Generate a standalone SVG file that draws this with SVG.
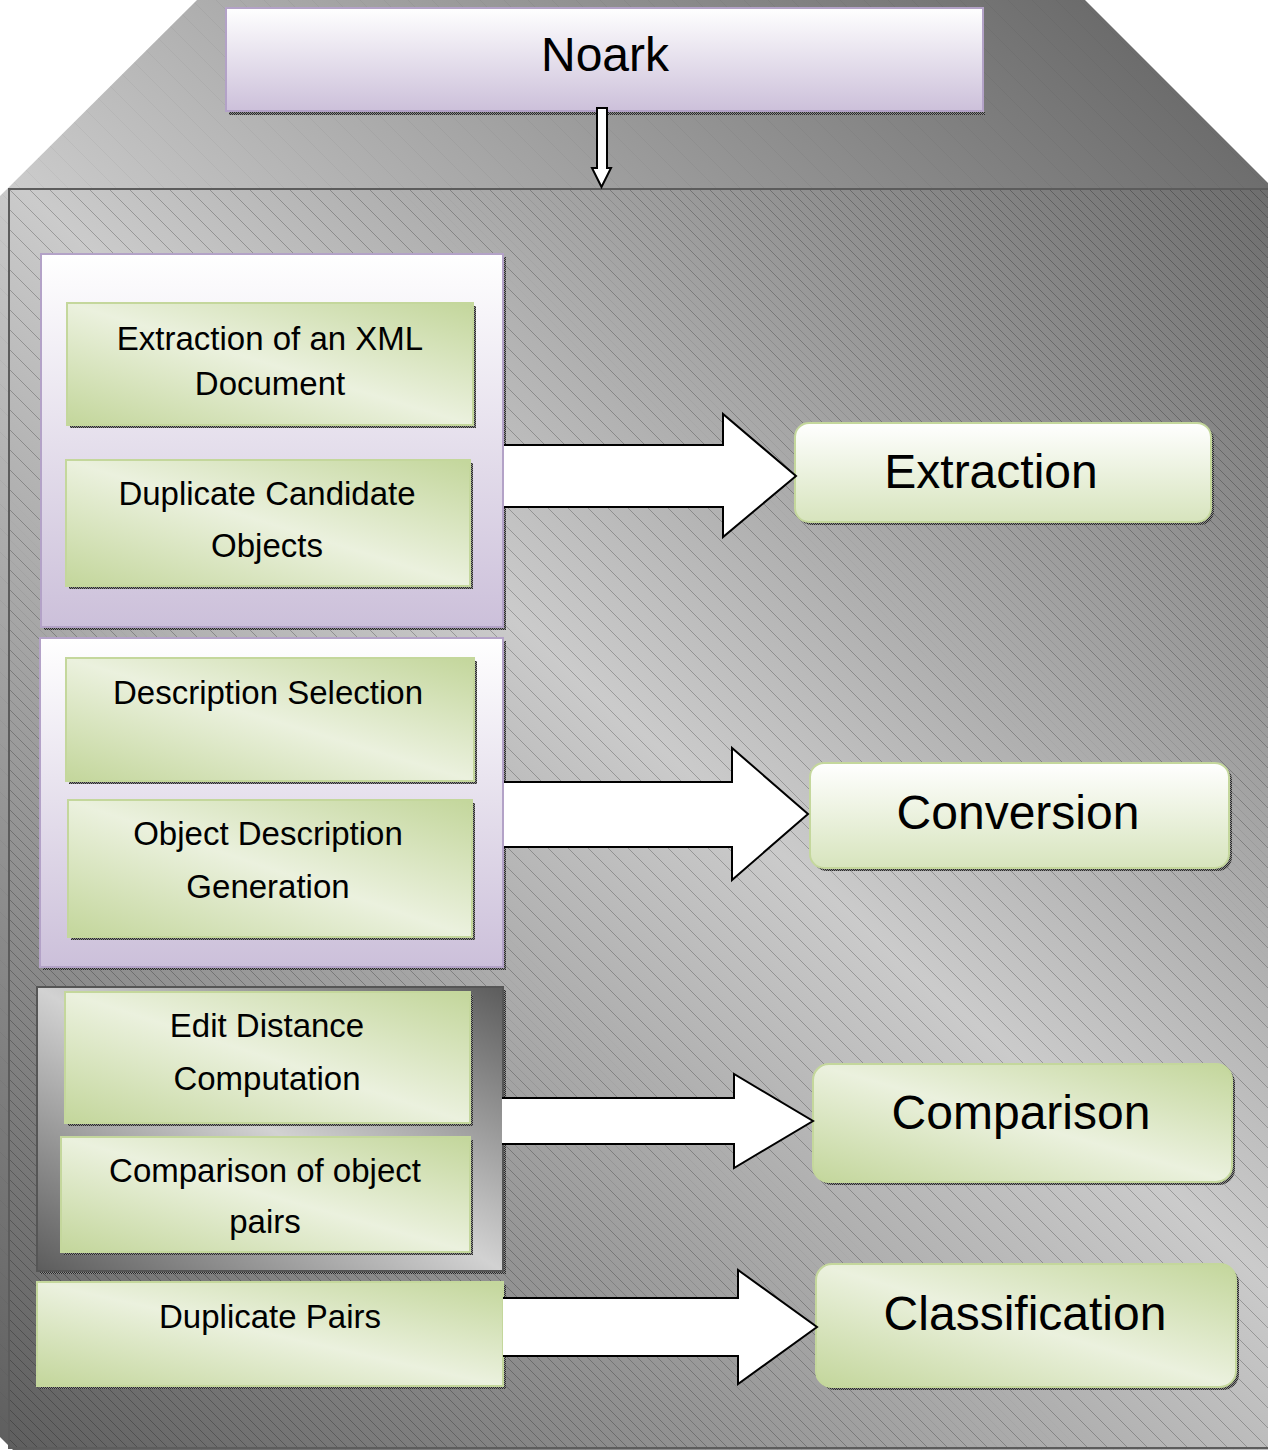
<svg xmlns="http://www.w3.org/2000/svg" width="1268" height="1450" viewBox="0 0 1268 1450">
  <style>
    text { font-family: "Liberation Sans", Arial, sans-serif; fill: #000; text-anchor: middle; }
    .s { font-size: 33px; }
    .b { font-size: 48px; }
    .grn { fill: url(#greenDiag); stroke: #c4d79c; stroke-width: 2; }
    .grv { fill: url(#greenVert); stroke: #c4d79c; stroke-width: 2; }
    .pur { fill: url(#lilac); stroke: #b3a2c7; stroke-width: 2; }
    .stl { fill: url(#steelBox); stroke: #555; stroke-width: 2; }
    .shd { fill: url(#dither); }
    .arr { fill: #fff; stroke: #000; stroke-width: 2; stroke-linejoin: miter; }
  </style>
  <defs>
    <!-- dark at top-right and bottom-left corners, light along the middle -->
    <linearGradient id="steel" gradientUnits="userSpaceOnUse" x1="1268" y1="0" x2="0" y2="1450">
      <stop offset="0" stop-color="#5e5e5e"/>
      <stop offset="0.5" stop-color="#cbcbcb"/>
      <stop offset="1" stop-color="#5e5e5e"/>
    </linearGradient>
    <!-- extra hatching only towards the dark ends -->
    <linearGradient id="edgeRamp" gradientUnits="userSpaceOnUse" x1="1268" y1="0" x2="0" y2="1450">
      <stop offset="0" stop-color="#fff"/>
      <stop offset="0.22" stop-color="#fff"/>
      <stop offset="0.38" stop-color="#000"/>
      <stop offset="0.62" stop-color="#000"/>
      <stop offset="0.78" stop-color="#fff"/>
      <stop offset="1" stop-color="#fff"/>
    </linearGradient>
    <linearGradient id="steelBox" x1="1" y1="0" x2="0" y2="1">
      <stop offset="0" stop-color="#5c5c5c"/>
      <stop offset="0.5" stop-color="#d2d2d2"/>
      <stop offset="1" stop-color="#5c5c5c"/>
    </linearGradient>
    <linearGradient id="greenDiag" x1="1" y1="0" x2="0" y2="1">
      <stop offset="0" stop-color="#c3d69b"/>
      <stop offset="0.5" stop-color="#ebf1de"/>
      <stop offset="1" stop-color="#c3d69b"/>
    </linearGradient>
    <linearGradient id="greenVert" x1="0" y1="0" x2="0" y2="1">
      <stop offset="0" stop-color="#ffffff"/>
      <stop offset="1" stop-color="#d7e4bd"/>
    </linearGradient>
    <linearGradient id="lilac" x1="0" y1="0" x2="0" y2="1">
      <stop offset="0" stop-color="#ffffff"/>
      <stop offset="1" stop-color="#ccc0da"/>
    </linearGradient>
    <pattern id="hatch" patternUnits="userSpaceOnUse" width="20" height="20">
      <path d="M-4,-4 L24,24 M-4,16 L4,24 M16,-4 L24,4" stroke="#000" stroke-opacity="0.3" stroke-width="0.8"/>
    </pattern>
    <pattern id="hatchFine" patternUnits="userSpaceOnUse" x="10" width="20" height="20">
      <path d="M-4,-4 L24,24 M-4,16 L4,24 M16,-4 L24,4" stroke="#000" stroke-opacity="0.3" stroke-width="0.8"/>
    </pattern>
    <pattern id="hatchFaint" patternUnits="userSpaceOnUse" width="24" height="24">
      <path d="M-4,-4 L28,28 M-4,20 L4,28 M20,-4 L28,4" stroke="#000" stroke-opacity="0.05" stroke-width="0.8"/>
    </pattern>
    <pattern id="dither" patternUnits="userSpaceOnUse" width="2" height="2">
      <rect width="2" height="2" fill="#8a8a8a"/>
      <rect width="1" height="1" fill="#2a2a2a"/>
      <rect x="1" y="1" width="1" height="1" fill="#2a2a2a"/>
    </pattern>
    <mask id="darkEnds">
      <rect x="0" y="0" width="1268" height="1450" fill="url(#edgeRamp)"/>
    </mask>
  </defs>

  <!-- housing -->
  <g id="housing">
    <polygon points="197,0 1085,0 1268,183 1268,1450 13,1450 0,1437 0,196" fill="url(#steel)"/>
    <polygon points="197,0 1085,0 1268,183 1268,1450 13,1450 0,1437 0,196" fill="url(#hatchFaint)"/>
    <rect x="9" y="189" width="1270" height="1259" fill="url(#steel)"/>
    <rect x="9" y="189" width="1270" height="1259" fill="url(#hatch)"/>
    <rect x="9" y="189" width="1270" height="1259" fill="url(#hatchFine)" mask="url(#darkEnds)"/>
    <rect x="9" y="189" width="1270" height="1259" fill="none" stroke="#5c5c5c" stroke-width="2"/>
  </g>

  <!-- source -->
  <g id="noark">
    <rect class="shd" x="229" y="111" width="756" height="4"/>
    <rect class="pur" x="226" y="8" width="757" height="103"/>
    <text class="b" x="605" y="71">Noark</text>
  </g>

  <!-- stage groups -->
  <g id="group-extraction">
    <rect class="shd" x="44" y="257" width="462" height="373"/>
    <rect class="pur" x="41" y="254" width="462" height="373"/>
  </g>
  <g id="group-conversion">
    <rect class="shd" x="43" y="641" width="463" height="329"/>
    <rect class="pur" x="40" y="638" width="463" height="329"/>
  </g>
  <g id="group-comparison">
    <rect class="shd" x="40" y="990" width="466" height="284"/>
    <rect class="stl" x="37" y="987" width="466" height="284"/>
  </g>

  <!-- steps -->
  <g id="step-xml">
    <rect class="shd" x="70" y="306" width="406" height="122"/>
    <rect class="grn" x="67" y="303" width="406" height="122"/>
    <text class="s" x="270" y="350">Extraction of an XML</text>
    <text class="s" x="270" y="395">Document</text>
  </g>
  <g id="step-candidates">
    <rect class="shd" x="69" y="463" width="404" height="126"/>
    <rect class="grn" x="66" y="460" width="404" height="126"/>
    <text class="s" x="267" y="505">Duplicate Candidate</text>
    <text class="s" x="267" y="557">Objects</text>
  </g>
  <g id="step-selection">
    <rect class="shd" x="69" y="661" width="408" height="123"/>
    <rect class="grn" x="66" y="658" width="408" height="123"/>
    <text class="s" x="268" y="704">Description Selection</text>
  </g>
  <g id="step-generation">
    <rect class="shd" x="71" y="803" width="404" height="137"/>
    <rect class="grn" x="68" y="800" width="404" height="137"/>
    <text class="s" x="268" y="845">Object Description</text>
    <text class="s" x="268" y="898">Generation</text>
  </g>
  <g id="step-distance">
    <rect class="shd" x="68" y="995" width="405" height="131"/>
    <rect class="grn" x="65" y="992" width="405" height="131"/>
    <text class="s" x="267" y="1037">Edit Distance</text>
    <text class="s" x="267" y="1090">Computation</text>
  </g>
  <g id="step-pairs">
    <rect class="shd" x="64" y="1140" width="409" height="115"/>
    <rect class="grn" x="61" y="1137" width="409" height="115"/>
    <text class="s" x="265" y="1182">Comparison of object</text>
    <text class="s" x="265" y="1233">pairs</text>
  </g>
  <g id="step-duplicates">
    <rect class="shd" x="40" y="1285" width="466" height="104"/>
    <rect class="grn" x="37" y="1282" width="466" height="104"/>
    <text class="s" x="270" y="1328">Duplicate Pairs</text>
  </g>

  <!-- phases -->
  <g id="phase-extraction">
    <rect class="shd" x="798" y="426" width="416" height="99" rx="14"/>
    <rect class="grv" x="795" y="423" width="416" height="99" rx="14"/>
    <text class="b" x="991" y="488">Extraction</text>
  </g>
  <g id="phase-conversion">
    <rect class="shd" x="813" y="766" width="419" height="105" rx="14"/>
    <rect class="grv" x="810" y="763" width="419" height="105" rx="14"/>
    <text class="b" x="1018" y="829">Conversion</text>
  </g>
  <g id="phase-comparison">
    <rect class="shd" x="816" y="1067" width="419" height="118" rx="16"/>
    <rect class="grn" x="813" y="1064" width="419" height="118" rx="16"/>
    <text class="b" x="1021" y="1129">Comparison</text>
  </g>
  <g id="phase-classification">
    <rect class="shd" x="819" y="1267" width="420" height="123" rx="16"/>
    <rect class="grn" x="816" y="1264" width="420" height="123" rx="16"/>
    <text class="b" x="1025" y="1330">Classification</text>
  </g>

  <!-- connectors -->
  <g id="connectors">
    <path class="arr" stroke-width="1.5" d="M597,108 H607 V168 H611 L601.5,187 L592,168 H597 Z"/>
    <path class="arr" d="M504,445 H723 V414 L796,476 L723,537 V507 H504"/>
    <path class="arr" d="M504,782 H732 V748 L808,814 L732,880 V847 H504"/>
    <path class="arr" d="M502,1098 H734 V1074 L813,1121 L734,1168 V1144 H502"/>
    <path class="arr" d="M503,1298 H738 V1270 L817,1327 L738,1384 V1356 H503"/>
  </g>
</svg>
